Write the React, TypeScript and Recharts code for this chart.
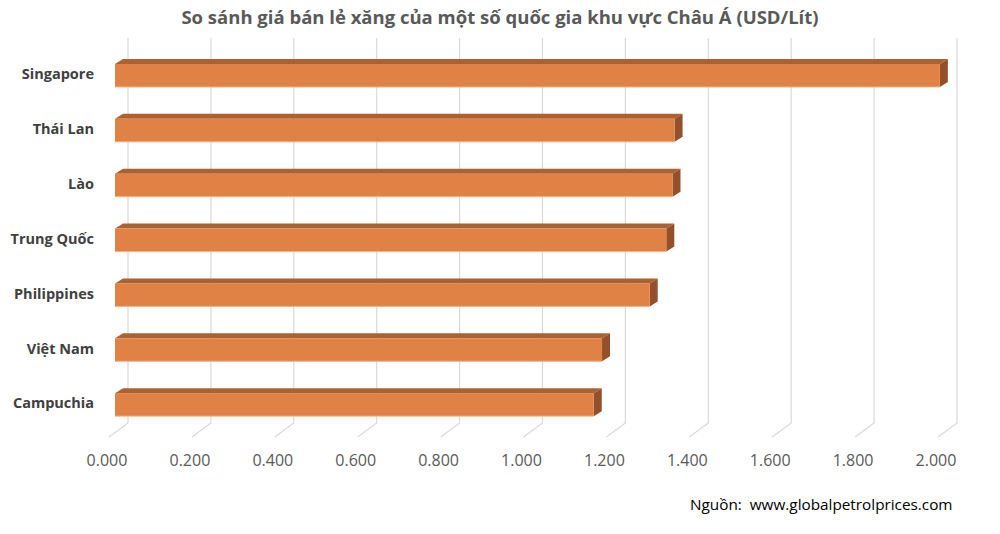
import { Bar, BarChart, CartesianGrid, XAxis, YAxis } from "recharts"

const countries = ["Singapore", "Thái Lan", "Lào", "Trung Quốc", "Philippines", "Việt Nam", "Campuchia"]
const prices = [1.99, 1.35, 1.345, 1.33, 1.29, 1.175, 1.155]
const xTicks = [0, 0.2, 0.4, 0.6, 0.8, 1.0, 1.2, 1.4, 1.6, 1.8, 2.0]

const data = countries.map((name, i) => ({ name, price: prices[i] }))

const FONT = "'Open Sans', sans-serif"
const DX = 8
const DY = 5

function Box3D(props: any) {
  const { x, y, width, height } = props
  if (width <= 0) return null
  const r = x + width
  return (
    <g>
      <polygon points={`${x},${y} ${x + DX},${y - DY} ${r + DX},${y - DY} ${r},${y}`} fill="#ab6233" />
      <polygon points={`${r},${y} ${r + DX},${y - DY} ${r + DX},${y + height - DY} ${r},${y + height}`} fill="#93502a" />
      <rect x={x} y={y} width={width} height={height} fill="#e08245" />
      <line x1={x} y1={y + height} x2={r} y2={y + height} stroke="#f0b48a" strokeWidth={1} />
    </g>
  )
}

function GridLine(props: any) {
  const { x1, y1, y2 } = props
  return (
    <polyline
      key={props.key}
      points={`${x1 + 13},${y1 - 10} ${x1 + 13},${y2 - 9} ${x1 - 6},${y2 + 5}`}
      fill="none"
      stroke="#d9d9d9"
      strokeWidth={1.2}
    />
  )
}

function CountryTick(props: any) {
  const { x, y, payload } = props
  return (
    <text x={x - 13} y={y} textAnchor="end" dominantBaseline="middle" fontFamily={FONT} fontSize={14.5} fontWeight={700} fill="#404040">
      {payload.value}
    </text>
  )
}

function ValueTick(props: any) {
  const { x, y, payload } = props
  return (
    <text x={x - 8} y={y + 22} textAnchor="middle" dominantBaseline="middle" fontFamily={FONT} fontSize={16} fill="#595959">
      {Number(payload.value).toFixed(3)}
    </text>
  )
}

export default function App() {
  return (
    <div style={{ position: "relative", width: 1000, height: 534, background: "#fff" }}>
      <style>{`body{margin:0}`}</style>
      <div
        style={{
          position: "absolute",
          top: 4,
          left: 0,
          width: 1000,
          textAlign: "center",
          fontFamily: FONT,
          fontWeight: 700,
          fontSize: 18.5,
          color: "#595959",
        }}
      >
        So sánh giá bán lẻ xăng của một số quốc gia khu vực Châu Á (USD/Lít)
      </div>
      <BarChart
        width={1000}
        height={534}
        data={data}
        layout="vertical"
        margin={{ top: 48, right: 56, bottom: 72, left: 0 }}
      >
        <CartesianGrid horizontal={false} vertical={GridLine} />
        <XAxis
          type="number"
          domain={[0, 2]}
          ticks={xTicks}
          axisLine={false}
          tickLine={false}
          tick={ValueTick}
          interval={0}
        />
        <YAxis type="category" dataKey="name" width={115} axisLine={false} tickLine={false} tick={CountryTick} />
        <Bar dataKey="price" barSize={23} shape={Box3D} isAnimationActive={false} />
      </BarChart>
      <div
        style={{
          position: "absolute",
          top: 494,
          left: 690,
          fontFamily: FONT,
          fontSize: 15.3,
          color: "#000",
          whiteSpace: "pre",
        }}
      >
        {"Nguồn:  www.globalpetrolprices.com"}
      </div>
    </div>
  )
}
